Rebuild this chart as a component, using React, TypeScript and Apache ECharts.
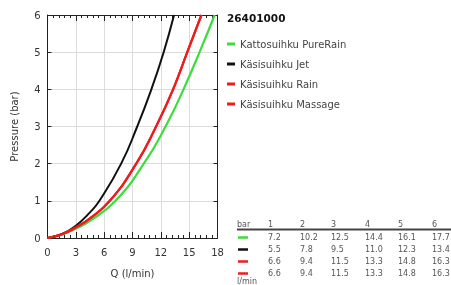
import React, { useEffect, useRef } from "react";
import * as echarts from "echarts";

// Table values (flow in l/min at 1..6 bar), plus low-pressure points
const pressures = [0, 1, 2, 3, 4, 5, 6];
const seriesNames = ["Kattosuihku PureRain", "Käsisuihku Jet", "Käsisuihku Rain", "Käsisuihku Massage"];
const seriesColors = ["#3ddc3d", "#111111", "#ee1c1c", "#ee1c1c"];
const flowPureRain = [0, 7.2, 10.2, 12.5, 14.4, 16.1, 17.7];
const flowJet = [0, 5.5, 7.8, 9.5, 11.0, 12.3, 13.4];
const flowRain = [0, 6.6, 9.4, 11.5, 13.3, 14.8, 16.3];
const flowMassage = [0, 6.6, 9.4, 11.5, 13.3, 14.8, 16.3];
const flows = [flowPureRain, flowJet, flowRain, flowMassage];
// extra curve readings below 1 bar: [Q, p]
const lowPureRain = [[1.5, 0.09], [3, 0.25], [4.5, 0.46]];
const lowJet = [[1.5, 0.1], [3, 0.33], [4.5, 0.69]];
const lowRain = [[1.5, 0.1], [3, 0.285], [4.5, 0.53]];
const lowMassage = [[1.5, 0.1], [3, 0.285], [4.5, 0.53]];
const lows = [lowPureRain, lowJet, lowRain, lowMassage];
const tableHeader = ["1", "2", "3", "4", "5", "6"];
const title = "26401000";

const FONT = "DejaVu Sans";

export default function App() {
  const ref = useRef<HTMLDivElement>(null);
  useEffect(() => {
    if (!ref.current) return;
    const chart = echarts.init(ref.current, undefined, { renderer: "svg" });
    const colX = [268, 300, 331, 365, 398, 432];
    const rowY = [237.5, 249.5, 261.5, 273.5];
    const graphics: any[] = [];
    graphics.push({ type: "text", x: 237, y: 220.5, style: { text: "bar", font: `8px '${FONT}'`, fill: "#555" } });
    tableHeader.forEach((h, i) => {
      graphics.push({ type: "text", x: colX[i], y: 220.5, style: { text: h, font: `8px '${FONT}'`, fill: "#555" } });
    });
    graphics.push({ type: "line", shape: { x1: 237, y1: 229.5, x2: 451, y2: 229.5 }, style: { stroke: "#444", lineWidth: 2 } });
    flows.forEach((f, r) => {
      graphics.push({ type: "line", shape: { x1: 238, y1: rowY[r], x2: 248, y2: rowY[r] }, style: { stroke: seriesColors[r], lineWidth: 2.5 } });
      f.slice(1).forEach((v, i) => {
        graphics.push({ type: "text", x: colX[i], y: rowY[r] - 4.5, style: { text: v.toFixed(1), font: `8px '${FONT}'`, fill: "#555" } });
      });
    });
    graphics.push({ type: "text", x: 237, y: 277.5, style: { text: "l/min", font: `8px '${FONT}'`, fill: "#555" } });

    const axisCommon = {
      type: "value" as const,
      axisLine: { show: true, onZero: false, lineStyle: { color: "#222", width: 1 } },
    };
    chart.setOption({
      animation: false,
      textStyle: { fontFamily: FONT },
      title: { text: title, left: 222, top: 7, textStyle: { fontSize: 10.5, fontWeight: "bold", color: "#111", fontFamily: FONT } },
      legend: {
        orient: "vertical",
        left: 222,
        top: 34,
        itemWidth: 8,
        itemHeight: 3,
        itemGap: 10,
        icon: "rect",
        textStyle: { fontSize: 10, color: "#444", fontFamily: FONT },
        data: seriesNames,
      },
      grid: { left: 47.5, top: 15, width: 170, height: 223, containLabel: false },
      xAxis: [
        {
          ...axisCommon,
          min: 0, max: 18, interval: 3,
          position: "bottom",
          name: "Q (l/min)", nameLocation: "middle", nameGap: 30,
          nameTextStyle: { fontSize: 10, color: "#333", fontFamily: FONT },
          axisTick: { show: true, inside: true, length: 6, lineStyle: { color: "#222" } },
          minorTick: { show: true, splitNumber: 5, length: 3, lineStyle: { color: "#222" } },
          axisLabel: { fontSize: 10, color: "#333", margin: 9, fontFamily: FONT },
          splitLine: { show: true, lineStyle: { color: "#dcdcdc", width: 1 } },
        },
        {
          ...axisCommon,
          min: 0, max: 18, interval: 3,
          position: "top",
          axisTick: { show: true, inside: true, length: 6, lineStyle: { color: "#222" } },
          minorTick: { show: true, splitNumber: 5, length: 3, lineStyle: { color: "#222" } },
          axisLabel: { show: false },
          splitLine: { show: false },
        },
      ],
      yAxis: [
        {
          ...axisCommon,
          min: 0, max: 6, interval: 1,
          position: "left",
          name: "Pressure (bar)", nameLocation: "middle", nameGap: 28,
          nameTextStyle: { fontSize: 10, color: "#333", fontFamily: FONT },
          axisTick: { show: true, inside: true, length: 4, lineStyle: { color: "#222" } },
          axisLabel: { fontSize: 10, color: "#333", margin: 7, fontFamily: FONT },
          splitLine: { show: true, lineStyle: { color: "#dcdcdc", width: 1 } },
        },
        {
          ...axisCommon,
          min: 0, max: 6, interval: 1,
          position: "right",
          axisTick: { show: true, inside: true, length: 4, lineStyle: { color: "#222" } },
          axisLabel: { show: false },
          splitLine: { show: false },
        },
      ],
      series: flows.map((f, i) => {
        const pts = f.map((q, j) => [q, pressures[j]]);
        const data = [pts[0], ...lows[i], ...pts.slice(1)];
        return {
          type: "line",
          name: seriesNames[i],
          data,
          smooth: 0.5,
          showSymbol: false,
          symbol: "none",
          color: seriesColors[i],
          lineStyle: { width: i === 1 ? 2 : 2.2, color: seriesColors[i] },
          xAxisIndex: 0,
          yAxisIndex: 0,
          z: i === 0 ? 2 : 3,
        };
      }),
      graphic: graphics,
    });
    return () => chart.dispose();
  }, []);
  return <div ref={ref} style={{ position: "fixed", left: 0, top: 0, width: 451, height: 285 }} />;
}
